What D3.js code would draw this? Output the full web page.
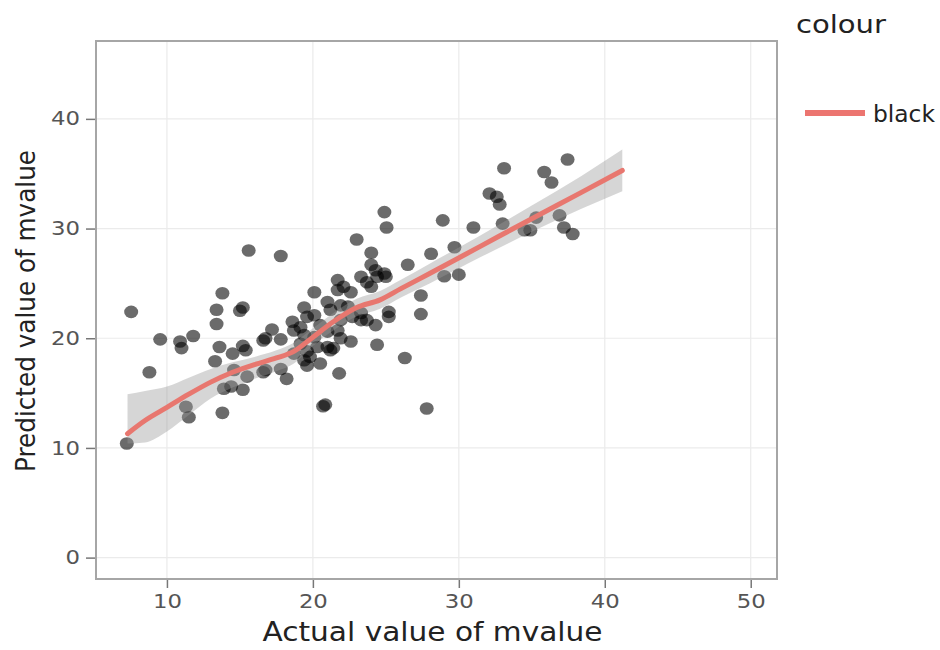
<!DOCTYPE html>
<html>
<head>
<meta charset="utf-8">
<script src="https://cdn.jsdelivr.net/npm/d3@7"></script>
<style>
  body { margin: 0; background: #fff; }
  svg { display: block; font-family: "DejaVu Sans", Verdana, sans-serif; }
</style>
</head>
<body>
<script>
// actual vs predicted points
var actual = [7.55, 8.8, 9.54, 10.9, 11.0, 11.8, 11.3, 11.5, 7.25, 13.8,
  13.4, 15.0, 15.2, 13.4, 13.6, 13.3, 14.5, 15.2, 15.4, 13.9,
  14.4, 15.2, 13.8, 15.6, 17.8, 16.6, 17.2, 17.8, 16.6, 17.8,
  18.2, 14.6, 15.5, 18.6, 18.7, 20.1, 25.05, 24.9, 23.0, 24.0,
  28.1, 26.5, 24.0, 24.3, 24.9, 24.4, 25.0, 23.3, 23.7, 24.0,
  21.7, 21.7, 22.6, 22.1, 19.4, 19.6, 20.1, 21.0, 21.2, 21.9,
  22.4, 19.15, 16.75, 20.5, 21.0, 21.7, 21.9, 22.7, 23.3, 23.3,
  23.7, 25.2, 24.3, 25.2, 27.4, 27.4, 24.4, 26.3, 27.8, 20.7,
  20.85, 21.8, 20.5, 19.8, 19.4, 18.7, 16.75, 21.0, 21.2, 20.3,
  19.6, 19.15, 21.9, 22.6, 21.4, 19.4, 20.1, 19.6, 37.45, 33.1,
  35.85, 36.35, 32.1, 32.6, 32.8, 28.9, 31.0, 33.0, 35.3, 36.9,
  34.5, 34.9, 37.2, 37.8, 29.7, 29.0, 30.0];
var predicted = [22.4, 16.9, 19.9, 19.7, 19.1, 20.2, 13.75, 12.8, 10.4, 24.1,
  22.6, 22.5, 22.8, 21.3, 19.2, 17.9, 18.6, 19.3, 18.9, 15.4,
  15.6, 15.3, 13.2, 28.0, 27.5, 19.8, 20.8, 19.9, 16.9, 17.2,
  16.3, 17.1, 16.5, 21.5, 20.7, 24.2, 30.1, 31.5, 29.0, 27.8,
  27.7, 26.7, 26.7, 26.2, 25.9, 25.6, 25.6, 25.6, 25.1, 24.7,
  25.3, 24.4, 24.2, 24.7, 22.8, 21.95, 22.1, 23.3, 22.6, 23.0,
  22.9, 21.0, 20.0, 21.2, 20.6, 20.7, 21.65, 21.95, 21.65, 22.3,
  21.65, 21.95, 21.2, 22.4, 23.9, 22.2, 19.4, 18.2, 13.6, 13.8,
  13.95, 16.8, 17.7, 18.3, 18.0, 18.6, 17.1, 19.2, 18.9, 19.2,
  18.8, 19.5, 20.0, 19.7, 19.1, 20.3, 20.1, 17.5, 36.3, 35.5,
  35.15, 34.2, 33.2, 32.9, 32.2, 30.75, 30.1, 30.45, 31.0, 31.2,
  29.85, 29.85, 30.1, 29.5, 28.3, 25.65, 25.8];

// loess smoother and its confidence band
var smoothX  = [7.3, 8.5, 10, 11.5, 13, 14.5, 16, 17.5, 18.7, 20, 21.4, 23, 24.6, 26, 28, 31.5, 35, 38.4, 41.2];
var smoothY  = [11.3, 12.5, 13.7, 14.9, 16.0, 16.9, 17.6, 18.2, 18.8, 20.1, 21.5, 22.8, 23.5, 24.5, 25.9, 28.4, 30.9, 33.3, 35.3];
var bandHigh = [14.9, 15.2, 15.6, 16.4, 17.2, 17.8, 18.3, 18.9, 19.6, 20.9, 22.3, 23.6, 24.3, 25.3, 26.8, 29.4, 32.1, 34.8, 37.2];
var bandLow  = [10.4, 10.5, 11.5, 13.0, 14.5, 15.5, 16.3, 17.0, 17.7, 19.3, 20.7, 22.0, 22.7, 23.7, 25.0, 27.4, 29.7, 31.8, 33.4];

var xTicks = [10, 20, 30, 40, 50];
var yTicks = [0, 10, 20, 30, 40];
var legendLabels = ["black"];

var width = 940, height = 650;
var plot = {left: 96, right: 777, top: 41, bottom: 579};

var svg = d3.select("body").append("svg")
    .attr("width", width).attr("height", height);

var x = d3.scaleLinear().domain([5.14, 51.8]).range([plot.left, plot.right]);
var y = d3.scaleLinear().domain([-1.95, 47.1]).range([plot.bottom, plot.top]);

// grid
var grid = svg.append("g");
grid.selectAll("line.vx").data(xTicks).enter().append("line")
    .attr("x1", d => x(d)).attr("x2", d => x(d))
    .attr("y1", plot.top).attr("y2", plot.bottom)
    .attr("stroke", "#ebebeb").attr("stroke-width", 1.2);
grid.selectAll("line.hy").data(yTicks).enter().append("line")
    .attr("y1", d => y(d)).attr("y2", d => y(d))
    .attr("x1", plot.left).attr("x2", plot.right)
    .attr("stroke", "#ebebeb").attr("stroke-width", 1.2);

// points
var pts = d3.range(actual.length).map(i => ({a: actual[i], p: predicted[i]}));
svg.append("g").selectAll("ellipse").data(pts).enter().append("ellipse")
    .attr("cx", d => x(d.a)).attr("cy", d => y(d.p))
    .attr("rx", 7).attr("ry", 6.3)
    .attr("fill", "#000").attr("fill-opacity", 0.58);

// band + smooth line
var sm = smoothX.map((v, i) => ({x: v, y: smoothY[i], lo: bandLow[i], hi: bandHigh[i]}));
svg.append("path").datum(sm)
    .attr("d", d3.area().x(d => x(d.x)).y0(d => y(d.lo)).y1(d => y(d.hi)).curve(d3.curveMonotoneX))
    .attr("fill", "#999").attr("fill-opacity", 0.4);
svg.append("path").datum(sm)
    .attr("d", d3.line().x(d => x(d.x)).y(d => y(d.y)).curve(d3.curveMonotoneX))
    .attr("fill", "none").attr("stroke", "#e8776f").attr("stroke-width", 5)
    .attr("stroke-linecap", "round");

// frame
svg.append("rect")
    .attr("x", plot.left).attr("y", plot.top)
    .attr("width", plot.right - plot.left).attr("height", plot.bottom - plot.top)
    .attr("fill", "none").attr("stroke", "#a6a6a6").attr("stroke-width", 2);

// axes
var xAxis = svg.append("g").attr("transform", "translate(0," + (plot.bottom + 1) + ")")
    .call(d3.axisBottom(x).tickValues(xTicks).tickSize(8).tickPadding(7));
var yAxis = svg.append("g").attr("transform", "translate(" + (plot.left - 1) + ",0)")
    .call(d3.axisLeft(y).tickValues(yTicks).tickSize(9).tickPadding(6));
[xAxis, yAxis].forEach(function(g) {
  g.select(".domain").remove();
  g.selectAll(".tick line").attr("stroke", "#777").attr("stroke-width", 1.5);
  g.selectAll(".tick text").attr("fill", "#555")
    .style("font-family", "'DejaVu Sans', Verdana, sans-serif").style("font-size", "19px")
    .attr("textLength", d => String(d).length * 14.5)
    .attr("lengthAdjust", "spacingAndGlyphs");
});

// titles
svg.append("text").attr("x", (plot.left + plot.right) / 2 - 4).attr("y", 641)
    .attr("text-anchor", "middle").attr("fill", "#222").style("font-size", "26px")
    .attr("textLength", 340).attr("lengthAdjust", "spacingAndGlyphs")
    .text("Actual value of mvalue");
svg.append("text").attr("transform", "translate(35,311) rotate(-90)")
    .attr("text-anchor", "middle").attr("fill", "#222").style("font-size", "26px")
    .attr("textLength", 322).attr("lengthAdjust", "spacingAndGlyphs")
    .text("Predicted value of mvalue");

// legend
svg.append("text").attr("x", 796).attr("y", 33).attr("fill", "#222").style("font-size", "24px")
    .attr("textLength", 90).attr("lengthAdjust", "spacingAndGlyphs").text("colour");
var leg = svg.append("g").selectAll("g").data(legendLabels).enter().append("g")
    .attr("transform", (d, i) => "translate(805," + (113 + i * 30) + ")");
leg.append("line").attr("x1", 0).attr("x2", 60).attr("y1", 0).attr("y2", 0)
    .attr("stroke", "#ec7570").attr("stroke-width", 6);
leg.append("text").attr("x", 68).attr("y", 9).attr("fill", "#222").style("font-size", "23px")
    .attr("textLength", 62).attr("lengthAdjust", "spacingAndGlyphs").text(d => d);
</script>
</body>
</html>
